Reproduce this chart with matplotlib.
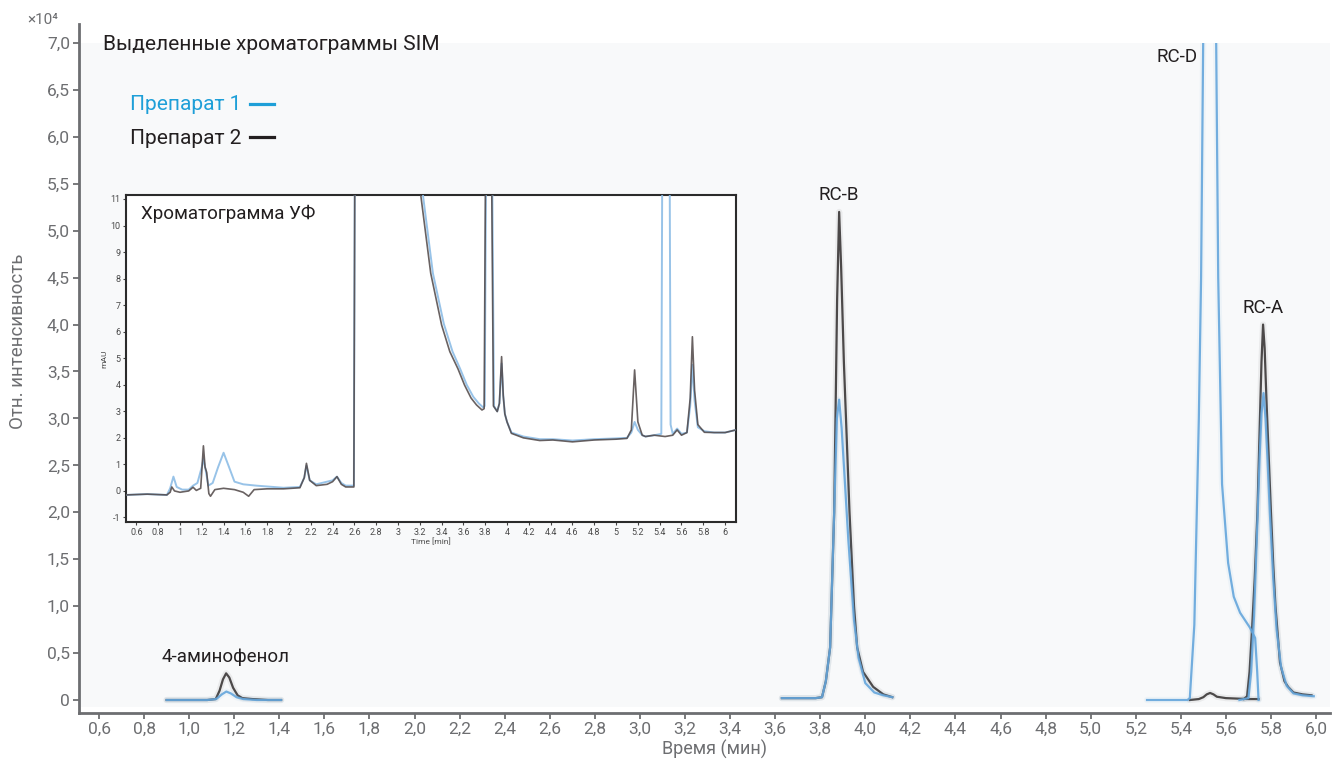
import numpy as np
import matplotlib.pyplot as plt
from matplotlib.patches import Rectangle

plt.rcParams['font.family'] = ['Roboto', 'DejaVu Sans']

# SIM traces, intensity in 1e4 units. _1 = Препарат 1 (blue), _2 = Препарат 2 (dark)
amino_x_1 = [0.90, 1.00, 1.08, 1.12, 1.145, 1.165, 1.185, 1.21, 1.24, 1.30, 1.408]
amino_y_1 = [0.0, 0.0, 0.0, 0.01, 0.06, 0.09, 0.07, 0.03, 0.01, 0.0, 0.0]
amino_x_2 = [0.90, 1.00, 1.08, 1.118, 1.135, 1.15, 1.164, 1.178, 1.195, 1.215, 1.236, 1.28, 1.35, 1.408]
amino_y_2 = [0.0, 0.0, 0.0, 0.01, 0.10, 0.22, 0.284, 0.24, 0.13, 0.05, 0.02, 0.01, 0.0, 0.0]

rcb_x_1 = [3.63, 3.70, 3.78, 3.808, 3.825, 3.844, 3.862, 3.874, 3.884, 3.895, 3.91, 3.925, 3.95, 3.97, 4.0, 4.04, 4.08, 4.12]
rcb_y_1 = [0.02, 0.02, 0.02, 0.03, 0.2, 0.56, 2.0, 3.0, 3.2, 2.9, 2.3, 1.7, 0.85, 0.45, 0.18, 0.08, 0.05, 0.03]
rcb_x_2 = [3.63, 3.70, 3.78, 3.808, 3.825, 3.844, 3.862, 3.875, 3.884, 3.893, 3.905, 3.93, 3.95, 3.964, 3.99, 4.035, 4.08, 4.12]
rcb_y_2 = [0.02, 0.02, 0.02, 0.03, 0.2, 0.56, 2.0, 4.26, 5.2, 4.6, 3.6, 2.0, 1.0, 0.56, 0.3, 0.14, 0.06, 0.03]

rcd_x_1 = [5.25, 5.35, 5.43, 5.44, 5.46, 5.48, 5.49, 5.50, 5.525, 5.557, 5.566, 5.583, 5.61, 5.635, 5.663, 5.707, 5.73, 5.739, 5.745]
rcd_y_1 = [0.0, 0.0, 0.0, 0.02, 0.8, 3.0, 4.5, 7.2, 9.5, 7.0, 4.5, 2.3, 1.46, 1.1, 0.93, 0.77, 0.66, 0.3, 0.0]
rcd_x_2 = [5.44, 5.48, 5.50, 5.515, 5.53, 5.545, 5.56, 5.60, 5.65, 5.70, 5.745]
rcd_y_2 = [0.0, 0.01, 0.03, 0.06, 0.075, 0.06, 0.035, 0.02, 0.015, 0.01, 0.01]

rca_x_1 = [5.66, 5.70, 5.712, 5.725, 5.74, 5.75, 5.758, 5.767, 5.776, 5.785, 5.795, 5.81, 5.825, 5.845, 5.87, 5.90, 5.94, 5.99]
rca_y_1 = [0.0, 0.02, 0.3, 0.9, 1.9, 2.6, 3.05, 3.27, 3.0, 2.55, 2.0, 1.3, 0.75, 0.35, 0.15, 0.07, 0.05, 0.04]
rca_x_2 = [5.68, 5.694, 5.705, 5.716, 5.728, 5.74, 5.75, 5.758, 5.765, 5.772, 5.78, 5.79, 5.80, 5.81, 5.82, 5.84, 5.86, 5.876, 5.90, 5.94, 5.98]
rca_y_2 = [0.01, 0.04, 0.3, 0.75, 1.3, 2.0, 2.9, 3.6, 4.0, 3.75, 3.2, 2.6, 2.0, 1.45, 1.0, 0.4, 0.2, 0.14, 0.08, 0.06, 0.05]

# UV chromatogram (inset), mAU
uv_x_1 = [0.505, 0.70, 0.88, 0.91, 0.94, 0.97, 1.02, 1.08, 1.12, 1.16, 1.20, 1.215, 1.235, 1.26, 1.30, 1.35,
          1.40, 1.45, 1.50, 1.58, 1.70, 1.95, 2.10, 2.14, 2.16, 2.19, 2.25, 2.40, 2.44, 2.48, 2.52, 2.595,
          2.605, 3.17, 3.23, 3.32, 3.42, 3.50, 3.57, 3.63, 3.69, 3.74, 3.78, 3.795, 3.81, 3.86, 3.88, 3.91,
          3.93, 3.95, 3.965, 3.98, 4.00, 4.04, 4.15, 4.30, 4.42, 4.60, 4.80, 5.00, 5.10, 5.14, 5.17, 5.20,
          5.24, 5.27, 5.35, 5.415, 5.425, 5.49, 5.50, 5.52, 5.56, 5.60, 5.65, 5.68, 5.70, 5.72, 5.75, 5.81,
          5.90, 6.00, 6.05, 6.10]
uv_y_1 = [-0.15, -0.12, -0.15, 0.1, 0.54, 0.15, 0.05, 0.05, 0.2, 0.3, 0.9, 1.2, 0.8, 0.2, 0.3, 0.9,
          1.44, 0.9, 0.35, 0.25, 0.2, 0.12, 0.15, 0.5, 0.95, 0.4, 0.25, 0.4, 0.54, 0.3, 0.2, 0.2,
          14.0, 14.0, 11.1, 8.2, 6.3, 5.25, 4.6, 4.0, 3.55, 3.3, 3.15, 3.2, 14.0, 14.0, 3.2, 3.0,
          3.3, 4.8, 3.6, 2.9, 2.6, 2.2, 2.05, 1.95, 1.95, 1.9, 1.95, 1.98, 2.0, 2.2, 2.6, 2.3,
          2.1, 2.05, 2.1, 2.15, 14.0, 14.0, 2.5, 2.15, 2.35, 2.15, 2.2, 3.2, 4.75, 3.4, 2.4, 2.25,
          2.2, 2.2, 2.25, 2.3]
uv_x_2 = [0.505, 0.70, 0.88, 0.91, 0.925, 0.95, 1.00, 1.08, 1.12, 1.15, 1.19, 1.215, 1.23, 1.245, 1.265, 1.28,
          1.32, 1.40, 1.50, 1.58, 1.63, 1.68, 1.80, 1.95, 2.10, 2.14, 2.16, 2.19, 2.25, 2.35, 2.40, 2.44,
          2.48, 2.52, 2.595, 2.605, 3.15, 3.21, 3.30, 3.40, 3.475, 3.55, 3.61, 3.67, 3.72, 3.77, 3.79, 3.805,
          3.855, 3.875, 3.91, 3.93, 3.95, 3.965, 3.98, 4.00, 4.04, 4.15, 4.30, 4.42, 4.60, 4.80, 5.00, 5.10,
          5.14, 5.17, 5.20, 5.24, 5.27, 5.35, 5.45, 5.52, 5.56, 5.60, 5.65, 5.68, 5.70, 5.72, 5.75, 5.81,
          5.90, 6.00, 6.05, 6.10]
uv_y_2 = [-0.15, -0.12, -0.15, -0.05, 0.15, 0.0, -0.05, 0.0, 0.14, 0.02, 0.1, 1.7, 0.9, 0.7, -0.1, -0.2,
          0.05, 0.1, 0.05, -0.05, -0.2, 0.05, 0.08, 0.08, 0.12, 0.5, 1.04, 0.4, 0.2, 0.25, 0.35, 0.54,
          0.25, 0.15, 0.15, 14.0, 14.0, 11.1, 8.2, 6.25, 5.25, 4.6, 3.99, 3.5, 3.24, 3.05, 3.1, 14.0,
          14.0, 3.2, 2.99, 3.3, 5.06, 3.6, 2.9, 2.6, 2.17, 2.0, 1.9, 1.92, 1.85, 1.92, 1.95, 1.98,
          2.3, 4.56, 2.6, 2.1, 2.05, 2.1, 2.05, 2.1, 2.3, 2.1, 2.2, 3.5, 5.81, 3.8, 2.5, 2.21,
          2.2, 2.2, 2.25, 2.3]

x_ticks = np.arange(0.6, 6.01, 0.2)
y_ticks = np.arange(0, 7.01, 0.5)
uv_x_ticks = np.arange(0.6, 6.01, 0.2)
uv_y_ticks = np.arange(-1, 12, 1)

BLUE = '#65a6dc'
DARK = '#3b3737'
GRAY = '#6d6e71'
TXT = '#231f20'

fig = plt.figure(figsize=(13.39, 7.61), dpi=100)
ax = fig.add_axes([79 / 1339, 48 / 761, 1251 / 1339, 689 / 761])
ax.set_xlim(0.5112, 6.062)
ax.set_ylim(-0.1385, 7.2024)
ax.set_facecolor('white')
ax.add_patch(Rectangle((0.52, -0.075), 5.54, 7.075, color='#f8f9fa', zorder=0, lw=0))

clip = Rectangle((0.5, -0.14), 5.6, 7.14, transform=ax.transData)
pairs = [(amino_x_1, amino_y_1, amino_x_2, amino_y_2),
         (rcb_x_1, rcb_y_1, rcb_x_2, rcb_y_2),
         (rcd_x_1, rcd_y_1, rcd_x_2, rcd_y_2),
         (rca_x_1, rca_y_1, rca_x_2, rca_y_2)]
for x1, y1, x2, y2 in pairs:
    for xs, ys, c, z in [(x2, y2, DARK, 3), (x1, y1, BLUE, 4)]:
        halo, = ax.plot(xs, ys, color=c, lw=4.5, alpha=0.07, zorder=z, solid_capstyle='round')
        ln, = ax.plot(xs, ys, color=c, lw=1.6, alpha=0.9, zorder=z, solid_joinstyle='round')
        halo.set_clip_path(clip)
        ln.set_clip_path(clip)

for s in ['top', 'right']:
    ax.spines[s].set_visible(False)
for s in ['left', 'bottom']:
    ax.spines[s].set_color(GRAY)
    ax.spines[s].set_linewidth(2)

ax.set_xticks(x_ticks)
ax.set_xticklabels([f'{v:.1f}'.replace('.', ',') for v in x_ticks])
ax.set_yticks(y_ticks)
ax.set_yticklabels(['0'] + [f'{v:.1f}'.replace('.', ',') for v in y_ticks[1:]])
ax.tick_params(direction='out', length=4, width=1.3, color=GRAY, labelcolor=GRAY,
               labelsize=12.5, pad=2.5)

fig.text(715 / 1339, 1 - 749 / 761, 'Время (мин)', color=GRAY, fontsize=13,
         ha='center', va='center')
fig.text(18 / 1339, 1 - 341 / 761, 'Отн. интенсивность', color=GRAY, fontsize=13.5,
         rotation=90, ha='center', va='center')
fig.text(27 / 1339, 1 - 20 / 761, '×10⁴', color=GRAY, fontsize=11, va='center', ha='left')

fig.text(103 / 1339, 1 - 45 / 761, 'Выделенные хроматограммы SIM', color=TXT, fontsize=15, va='center')
fig.text(130 / 1339, 1 - 105 / 761, 'Препарат 1', color='#1e9fd8', fontsize=15, va='center')
fig.text(130 / 1339, 1 - 138 / 761, 'Препарат 2', color=TXT, fontsize=15, va='center')
fig.add_artist(plt.Line2D([250 / 1339, 274 / 1339], [1 - 104 / 761] * 2, color='#1e9fd8', lw=2.3))
fig.add_artist(plt.Line2D([250 / 1339, 274 / 1339], [1 - 137 / 761] * 2, color=TXT, lw=2.3))

ax.text(1.16, 0.36, '4-аминофенол', color=TXT, fontsize=13.5, ha='center', va='bottom')
ax.text(3.884, 5.28, 'RC-B', color=TXT, fontsize=13.5, ha='center', va='bottom')
ax.text(5.765, 4.08, 'RC-A', color=TXT, fontsize=13.5, ha='center', va='bottom')
ax.text(5.475, 6.85, 'RC-D', color=TXT, fontsize=13.5, ha='right', va='center')

# inset UV chromatogram
ins = fig.add_axes([126 / 1339, 1 - 522 / 761, 610 / 1339, 327 / 761])
ins.set_facecolor('white')
ins.set_xlim(0.505, 6.10)
ins.set_ylim(-1.17, 11.15)
ins.plot(uv_x_1, uv_y_1, color='#8dbde6', lw=1.4, alpha=0.9, zorder=3)
ins.plot(uv_x_2, uv_y_2, color='#4f4646', lw=1.2, alpha=0.85, zorder=4)
for s in ins.spines.values():
    s.set_color('#2b2b2b')
    s.set_linewidth(1.5)
ins.set_xticks(uv_x_ticks)
ins.set_xticklabels([f'{v:g}' for v in np.round(uv_x_ticks, 1)])
ins.set_yticks(uv_y_ticks)
ins.set_yticklabels([str(v) for v in uv_y_ticks])
ins.tick_params(direction='out', length=2.5, width=0.8, color='#444', labelcolor='#4a4a4a',
                labelsize=6.5, pad=1.5)
ins.set_xlabel('Time [min]', fontsize=6, color='#4a4a4a', labelpad=1)
ins.set_ylabel('mAU', fontsize=6, color='#4a4a4a', labelpad=2)
ins.text(15 / 610, 1 - 10 / 327, 'Хроматограмма УФ', transform=ins.transAxes, color=TXT,
         fontsize=13.5, ha='left', va='top')

fig.savefig('out.png', dpi=100)
